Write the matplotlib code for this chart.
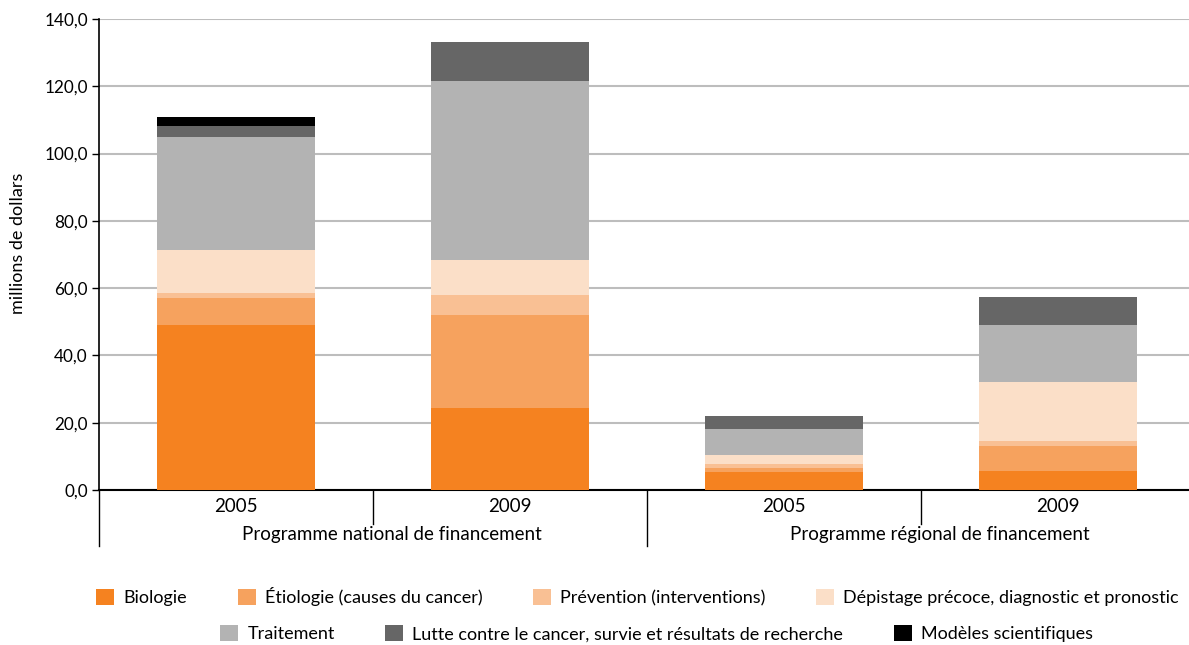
import matplotlib.pyplot as plt
import numpy as np

plt.rcParams['font.family'] = ['Lato', 'DejaVu Sans']

years = ['2005', '2009', '2005', '2009']
groups = ['Programme national de financement', 'Programme régional de financement']

categories = [
    'Biologie',
    'Étiologie (causes du cancer)',
    'Prévention (interventions)',
    'Dépistage précoce, diagnostic et pronostic',
    'Traitement',
    'Lutte contre le cancer, survie et résultats de recherche',
    'Modèles scientifiques',
]
colors = ['#F58220', '#F6A25E', '#F9C094', '#FBDFC8', '#B3B3B3', '#666666', '#000000']

# values per category, one per bar (national 2005, national 2009, regional 2005, regional 2009)
biologie = [49.0, 24.5, 5.4, 5.7]
etiologie = [8.2, 27.5, 1.2, 7.4]
prevention = [1.3, 6.0, 1.1, 1.5]
depistage = [12.8, 10.4, 2.6, 17.5]
traitement = [33.7, 53.2, 7.8, 16.9]
lutte = [3.3, 11.7, 3.9, 8.3]
modeles = [2.7, 0.0, 0.0, 0.0]
series = [biologie, etiologie, prevention, depistage, traitement, lutte, modeles]

fig = plt.figure(figsize=(11.89, 6.45), dpi=100)
ax = fig.add_axes([99 / 1189, 155 / 645, 1096 / 1189, 471 / 645])

x = np.arange(len(years))
bottom = np.zeros(len(years))
handles = []
for name, vals, col in zip(categories, series, colors):
    h = ax.bar(x, vals, width=0.577, bottom=bottom, color=col, label=name, zorder=3)
    handles.append(h)
    bottom += np.array(vals)

ax.set_xlim(-0.5, 3.5)
ax.set_ylim(0, 140)
ax.set_yticks(np.arange(0, 141, 20))
ax.set_yticklabels([f'{v:.1f}'.replace('.', ',') for v in np.arange(0, 141, 20)], fontsize=12.3)
ax.yaxis.grid(True, color='#BDBDBD', linewidth=1.5, zorder=0)
ax.set_axisbelow(True)
ax.tick_params(axis='y', length=5, width=1, color='black', pad=3)
ax.tick_params(axis='x', length=0, labelbottom=False)
for s in ['top', 'right']:
    ax.spines[s].set_visible(False)
ax.spines['left'].set_linewidth(1.2)
ax.spines['bottom'].set_linewidth(1.5)
ax.set_ylabel('millions de dollars', fontsize=13)
ax.yaxis.set_label_coords(-0.067, 0.524)

# category labels and separators below the axis
trans = ax.get_xaxis_transform()
for i, yr in enumerate(years):
    ax.text(i, -0.034, yr, transform=trans, ha='center', va='center', fontsize=13.5)
for i, g in enumerate(groups):
    ax.text(2 * i + 0.57, -0.094, g, transform=trans, ha='center', va='center', fontsize=13.5)
for xs in [0.5, 2.5]:
    ax.plot([xs, xs], [0, -0.072], transform=trans, color='black', lw=1, clip_on=False)
for xs in [-0.5, 1.5, 3.5]:
    ax.plot([xs, xs], [0, -0.119], transform=trans, color='black', lw=1, clip_on=False)

leg_kw = dict(frameon=False, fontsize=13, handlelength=1.0, handleheight=1.0,
              handletextpad=0.5, columnspacing=2.8, loc='center')
leg1 = ax.legend(handles[:4], categories[:4], ncol=4, bbox_to_anchor=(0.4913, -0.226), **leg_kw)
ax.add_artist(leg1)
ax.legend(handles[4:], categories[4:], ncol=3, bbox_to_anchor=(0.5087, -0.305), **leg_kw)

fig.savefig('out.png', dpi=100)
